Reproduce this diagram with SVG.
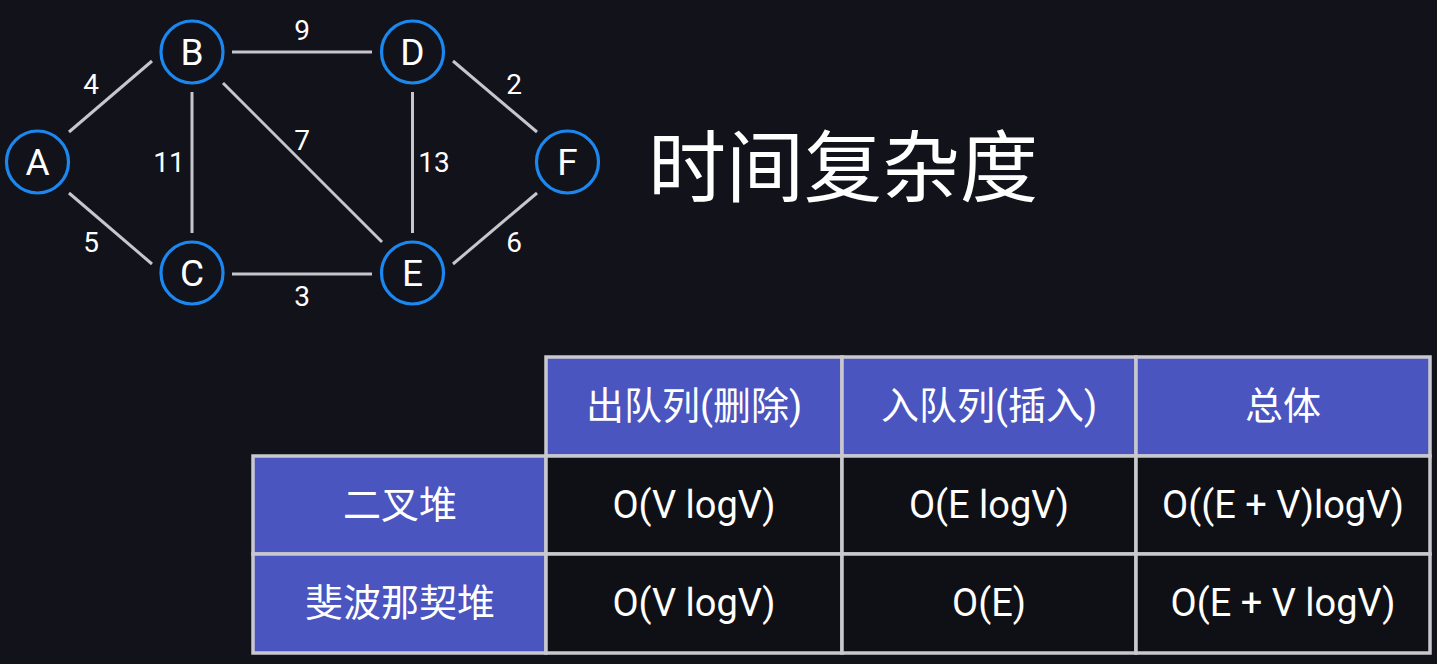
<svg xmlns="http://www.w3.org/2000/svg" width="1437" height="664" viewBox="0 0 1437 664">
<style>
.node circle{fill:#11121a;stroke:#1b87ef;stroke-width:3.2}
.node text{fill:#ffffff;font-family:Roboto,"Noto Sans",sans-serif;font-size:37px;text-anchor:middle;dominant-baseline:central}
.edges line{stroke:#c6c6cc;stroke-width:3;stroke-linecap:butt}
.w{fill:#ffffff;font-family:Roboto,"Noto Sans",sans-serif;font-size:28px;text-anchor:middle;dominant-baseline:central}
.title{fill:#ffffff;font-family:"Noto Sans CJK SC",sans-serif;font-size:78px;dominant-baseline:central}
.hd{fill:#4a55c0;stroke:#c8c8ce;stroke-width:3.5}
.bd{fill:#0f1016;stroke:#c8c8ce;stroke-width:3.5}
.t{fill:#ffffff;font-family:Roboto,"Noto Sans CJK SC",sans-serif;font-size:38px;text-anchor:middle;dominant-baseline:central}
</style>
<rect x="0" y="0" width="1437" height="664" fill="#11121a"/>
<g class="edges" id="connectors">
<line x1="69" y1="132" x2="152" y2="61"/>
<line x1="69" y1="193" x2="152" y2="264"/>
<line x1="232" y1="52" x2="372" y2="52"/>
<line x1="192" y1="92" x2="192" y2="233"/>
<line x1="223" y1="83" x2="382" y2="242"/>
<line x1="232" y1="274" x2="372" y2="274"/>
<line x1="412.5" y1="92" x2="412.5" y2="233"/>
<line x1="453" y1="61" x2="537" y2="132"/>
<line x1="453" y1="264" x2="537" y2="193"/>
</g>
<g id="weights">
<text class="w" x="91" y="84">4</text>
<text class="w" x="302" y="30">9</text>
<text class="w" x="514" y="84">2</text>
<text class="w" x="169" y="162">11</text>
<text class="w" x="302" y="140">7</text>
<text class="w" x="434" y="162">13</text>
<text class="w" x="91" y="242">5</text>
<text class="w" x="302" y="296">3</text>
<text class="w" x="514" y="242">6</text>
</g>
<g class="node" id="node-A"><circle cx="37.5" cy="162" r="31"/><text x="37.5" y="162">A</text></g>
<g class="node" id="node-B"><circle cx="192" cy="52" r="31"/><text x="192" y="52">B</text></g>
<g class="node" id="node-C"><circle cx="192" cy="273" r="31"/><text x="192" y="273">C</text></g>
<g class="node" id="node-D"><circle cx="412.5" cy="52" r="31"/><text x="412.5" y="52">D</text></g>
<g class="node" id="node-E"><circle cx="412.5" cy="273" r="31"/><text x="412.5" y="273">E</text></g>
<g class="node" id="node-F"><circle cx="567.5" cy="162" r="31"/><text x="567.5" y="162">F</text></g>
<g id="title"><text class="title" x="648" y="162">时间复杂度</text></g>
<g id="table">
<rect class="hd" x="546" y="357" width="296" height="99"/>
<rect class="hd" x="842" y="357" width="294" height="99"/>
<rect class="hd" x="1136" y="357" width="294" height="99"/>
<rect class="hd" x="253" y="456" width="293" height="98"/>
<rect class="bd" x="546" y="456" width="296" height="98"/>
<rect class="bd" x="842" y="456" width="294" height="98"/>
<rect class="bd" x="1136" y="456" width="294" height="98"/>
<rect class="hd" x="253" y="554" width="293" height="99"/>
<rect class="bd" x="546" y="554" width="296" height="99"/>
<rect class="bd" x="842" y="554" width="294" height="99"/>
<rect class="bd" x="1136" y="554" width="294" height="99"/>
<text class="t" x="694" y="406">出队列(删除)</text>
<text class="t" x="989" y="406">入队列(插入)</text>
<text class="t" x="1283" y="406">总体</text>
<text class="t" x="400" y="505">二叉堆</text>
<text class="t" x="694" y="505">O(V logV)</text>
<text class="t" x="989" y="505">O(E logV)</text>
<text class="t" x="1283" y="505">O((E + V)logV)</text>
<text class="t" x="400" y="603">斐波那契堆</text>
<text class="t" x="694" y="603">O(V logV)</text>
<text class="t" x="989" y="603">O(E)</text>
<text class="t" x="1283" y="603">O(E + V logV)</text>
</g>
</svg>
